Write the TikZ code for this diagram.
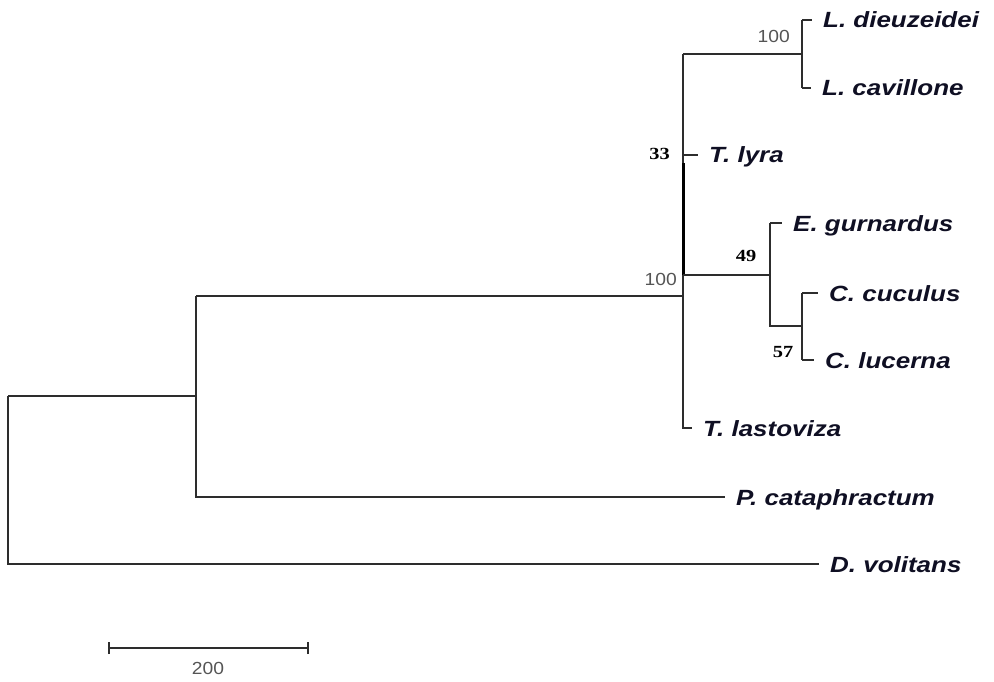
\documentclass[tikz,border=0pt]{standalone}
\usepackage{fontspec}
\setmainfont{Liberation Sans}
\newfontfamily\tipfont[FakeStretch=1.18]{Liberation Sans}
\newfontfamily\graynum[FakeStretch=1.1]{Liberation Sans}
\newfontfamily\serifnum[FakeStretch=1.2]{Liberation Serif}
\definecolor{branch}{RGB}{45,45,45}
\definecolor{tiptext}{RGB}{15,15,35}
\definecolor{bootgray}{RGB}{85,85,85}
\begin{document}
\begin{tikzpicture}[x=1pt,y=-1pt,
  br/.style={draw=branch,line width=1.3pt},
  thickbr/.style={draw=black,line width=3pt},
  tip/.style={anchor=west,inner xsep=11pt,inner ysep=0pt,text height=16pt,text depth=0pt,text=tiptext,font=\fontsize{22}{24}\selectfont\tipfont\bfseries\itshape},
  bootg/.style={text=bootgray,font=\fontsize{17.5}{19}\selectfont\graynum,inner sep=0pt},
  bootb/.style={text=black,font=\fontsize{17}{19}\selectfont\serifnum\bfseries,inner sep=0pt}]
\useasboundingbox (0,0) rectangle (994,682);
% internal nodes
\coordinate (root) at (8,396);
\coordinate (rootb) at (8,564);
\coordinate (n1) at (196,396);
\coordinate (n1t) at (196,296);
\coordinate (n1b) at (196,497);
\coordinate (n2) at (683,296);
\coordinate (n2t) at (683,54);
\coordinate (n2b) at (683,428);
\coordinate (n3) at (802,54);
\coordinate (n3t) at (802,20);
\coordinate (n3b) at (802,88);
\coordinate (n4j) at (683,275);
\coordinate (n4) at (770,275);
\coordinate (n4t) at (770,223);
\coordinate (n4b) at (770,326);
\coordinate (n5) at (802,326);
\coordinate (n5t) at (802,293);
\coordinate (n5b) at (802,360);
\coordinate (lyj) at (683,155);
\coordinate (thA) at (683,163);
% tips
\node[tip] (ld) at (812,20) {L. dieuzeidei};
\node[tip] (lc) at (811,88) {L. cavillone};
\node[tip] (tl) at (698,155) {T. lyra};
\node[tip] (eg) at (782,223) {E. gurnardus};
\node[tip] (cc) at (818,293) {C. cuculus};
\node[tip] (cl) at (814,360) {C. lucerna};
\node[tip] (tv) at (692,428) {T. lastoviza};
\node[tip] (pc) at (725,497) {P. cataphractum};
\node[tip] (dv) at (819,564) {D. volitans};
% branches
\draw[br] (root) -- (rootb) -- (dv.west);
\draw[br] (root) -- (n1);
\draw[br] (n1t) -- (n1b) -- (pc.west);
\draw[br] (n1t) -- (n2);
\draw[br] (n2t) -- (n2b) -- (tv.west);
\draw[br] (n2t) -- (n3);
\draw[br] (n3t) -- (n3b);
\draw[br] (n3t) -- (ld.west);
\draw[br] (n3b) -- (lc.west);
\draw[br] (lyj) -- (tl.west);
\draw[thickbr] (thA) -- (n4j);
\draw[br] (n4j) -- (n4);
\draw[br] (n4t) -- (n4b) -- (n5);
\draw[br] (n4t) -- (eg.west);
\draw[br] (n5t) -- (n5b);
\draw[br] (n5t) -- (cc.west);
\draw[br] (n5b) -- (cl.west);
% bootstrap values
\node[bootg,anchor=east] (b100a) at (790,36) {100};
\node[bootg,anchor=east] (b100b) at (677,279) {100};
\node[bootb,anchor=east] (b33) at (670,154) {33};
\node[bootb] (b49) at (746,256) {49};
\node[bootb] (b57) at (783,352) {57};
% scale bar
\coordinate (sbL) at (109,648);
\coordinate (sbR) at (308,648);
\draw[br] (sbL) -- (sbR);
\draw[br] ([yshift=-6pt]sbL) -- ([yshift=6pt]sbL);
\draw[br] ([yshift=-6pt]sbR) -- ([yshift=6pt]sbR);
\node[bootg] (sbt) at (208,668) {200};
\end{tikzpicture}
\end{document}
